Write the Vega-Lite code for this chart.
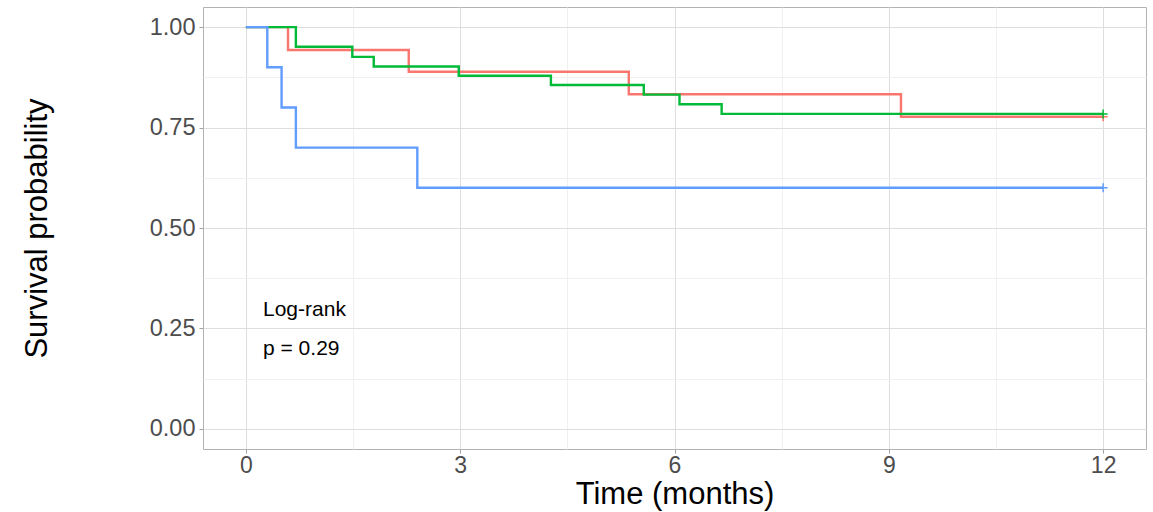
{
  "$schema": "https://vega.github.io/schema/vega-lite/v6.json",
  "width": 943,
  "height": 442,
  "autosize": {"type": "none"},
  "padding": {"left": 203, "top": 7, "right": 7, "bottom": 63},
  "background": "white",
  "config": {
    "view": {"stroke": "#B3B3B3", "strokeWidth": 1},
    "font": "Liberation Sans"
  },
  "datasets": {
    "curves": [
      {"group": "Group 1", "time": 0, "surv": 1.0},
      {"group": "Group 1", "time": 0.59, "surv": 0.943},
      {"group": "Group 1", "time": 2.28, "surv": 0.889},
      {"group": "Group 1", "time": 5.36, "surv": 0.833},
      {"group": "Group 1", "time": 9.17, "surv": 0.777},
      {"group": "Group 1", "time": 12, "surv": 0.777},
      {"group": "Group 2", "time": 0, "surv": 1.0},
      {"group": "Group 2", "time": 0.70, "surv": 0.951},
      {"group": "Group 2", "time": 1.49, "surv": 0.926},
      {"group": "Group 2", "time": 1.79, "surv": 0.902},
      {"group": "Group 2", "time": 2.98, "surv": 0.879},
      {"group": "Group 2", "time": 4.27, "surv": 0.856},
      {"group": "Group 2", "time": 5.57, "surv": 0.832},
      {"group": "Group 2", "time": 6.07, "surv": 0.808},
      {"group": "Group 2", "time": 6.66, "surv": 0.784},
      {"group": "Group 2", "time": 12, "surv": 0.784},
      {"group": "Group 3", "time": 0, "surv": 1.0},
      {"group": "Group 3", "time": 0.30, "surv": 0.9},
      {"group": "Group 3", "time": 0.50, "surv": 0.8},
      {"group": "Group 3", "time": 0.70, "surv": 0.7},
      {"group": "Group 3", "time": 2.40, "surv": 0.6},
      {"group": "Group 3", "time": 12, "surv": 0.6}
    ],
    "censor": [
      {"group": "Group 1", "time": 12, "surv": 0.777},
      {"group": "Group 2", "time": 12, "surv": 0.784},
      {"group": "Group 3", "time": 12, "surv": 0.6}
    ],
    "notes": [
      {"time": 0.24, "surv": 0.295, "label": "Log-rank"},
      {"time": 0.24, "surv": 0.2, "label": "p = 0.29"}
    ]
  },
  "encoding": {
    "x": {
      "field": "time",
      "type": "quantitative",
      "scale": {"domain": [-0.6, 12.6], "nice": false, "zero": false},
      "axis": {
        "title": "Time (months)",
        "values": [0, 1.5, 3, 4.5, 6, 7.5, 9, 10.5, 12],
        "labelExpr": "datum.value % 3 === 0 ? format(datum.value, 'd') : ''",
        "domain": false,
        "grid": true,
        "gridColor": {"condition": {"test": "datum.value % 3 !== 0", "value": "#F0F0F0"}, "value": "#DEDEDE"},
        "gridWidth": 1,
        "tickColor": "#A0A0A0",
        "tickOpacity": {"condition": {"test": "datum.value % 3 !== 0", "value": 0}, "value": 1},
        "tickSize": 4,
        "labelFontSize": 23,
        "labelColor": "#4D4D4D",
        "labelPadding": 1,
        "labelFont": "Liberation Sans",
        "titleFont": "Liberation Sans",
        "titleFontSize": 31,
        "titleFontWeight": "normal",
        "titleColor": "#000000",
        "titlePadding": 2
      }
    },
    "y": {
      "field": "surv",
      "type": "quantitative",
      "scale": {"domain": [-0.05, 1.05], "nice": false, "zero": false},
      "axis": {
        "title": "Survival probability",
        "values": [0, 0.125, 0.25, 0.375, 0.5, 0.625, 0.75, 0.875, 1],
        "labelExpr": "datum.value % 0.25 === 0 ? format(datum.value, '.2f') : ''",
        "domain": false,
        "grid": true,
        "gridColor": {"condition": {"test": "datum.value % 0.25 !== 0", "value": "#F0F0F0"}, "value": "#DEDEDE"},
        "gridWidth": 1,
        "tickColor": "#A0A0A0",
        "tickOpacity": {"condition": {"test": "datum.value % 0.25 !== 0", "value": 0}, "value": 1},
        "tickSize": 4,
        "labelFontSize": 23.5,
        "labelColor": "#4D4D4D",
        "labelPadding": 4,
        "labelFont": "Liberation Sans",
        "titleFont": "Liberation Sans",
        "titleFontSize": 31,
        "titleFontWeight": "normal",
        "titleColor": "#000000",
        "titlePadding": 96
      }
    }
  },
  "layer": [
    {
      "data": {"name": "curves"},
      "mark": {"type": "line", "interpolate": "step-after", "strokeWidth": 2.4},
      "encoding": {
        "color": {
          "field": "group",
          "type": "nominal",
          "scale": {"domain": ["Group 1", "Group 2", "Group 3"], "range": ["#F8766D", "#00BA38", "#619CFF"]},
          "legend": null
        }
      }
    },
    {
      "data": {"name": "censor"},
      "mark": {"type": "point", "shape": "M-1,0H1M0,-1V1", "filled": false, "size": 81, "strokeWidth": 1.5, "opacity": 1},
      "encoding": {
        "color": {
          "field": "group",
          "type": "nominal",
          "scale": {"domain": ["Group 1", "Group 2", "Group 3"], "range": ["#F8766D", "#00BA38", "#619CFF"]},
          "legend": null
        }
      }
    },
    {
      "data": {"name": "notes"},
      "mark": {"type": "text", "align": "left", "baseline": "middle", "fontSize": 21, "font": "Liberation Sans", "color": "#000000"},
      "encoding": {
        "text": {"field": "label", "type": "nominal"}
      }
    }
  ]
}
